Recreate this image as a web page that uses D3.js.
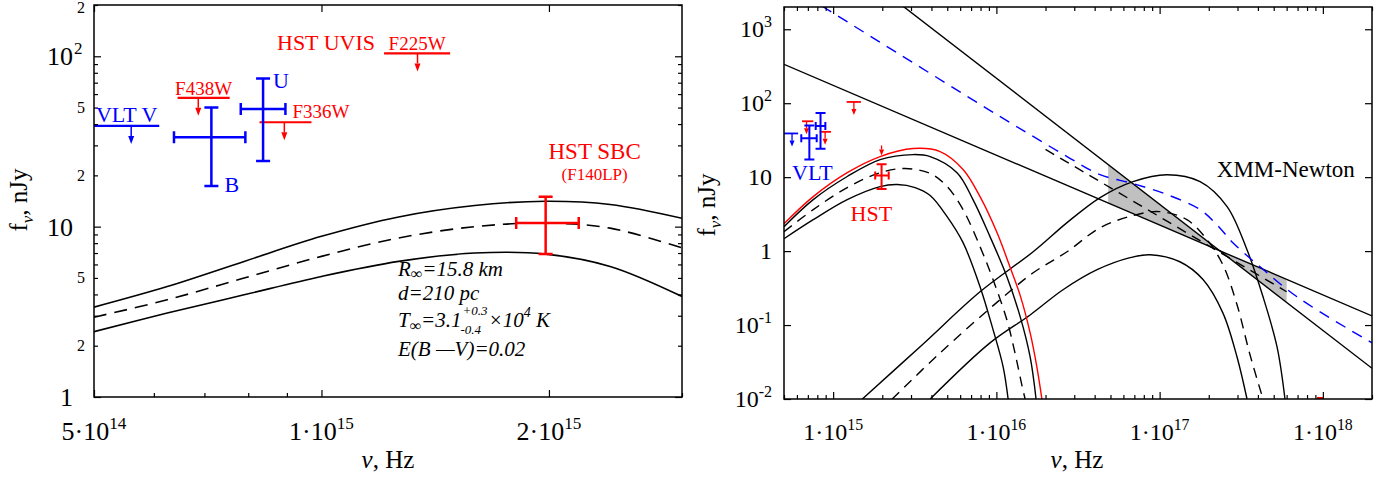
<!DOCTYPE html>
<html>
<head>
<meta charset="utf-8">
<script src="https://cdn.jsdelivr.net/npm/d3@7"></script>
<style>
  body { margin: 0; background: #fff; }
  svg { font-family: "Liberation Serif", "Times New Roman", serif; }
</style>
</head>
<body>
<div id="chart"></div>
<script>
// all values: nu in Hz, f_nu in nJy

// left panel - atmosphere model spectra (upper / best / lower)
const uvUpper = [[5e14, 3.37], [6.25e14, 4.45], [7.9e14, 6.25], [1e15, 8.77], [1.265e15, 11.4], [1.595e15, 13.3], [1.98e15, 14.1], [2.41e15, 13.5], [3.0e15, 11.2]]
const uvBest = [[5e14, 2.94], [6.25e14, 3.72], [7.9e14, 4.99], [1e15, 6.69], [1.265e15, 8.58], [1.595e15, 10.0], [1.98e15, 10.5], [2.41e15, 9.8], [3.0e15, 7.5]]
const uvLower = [[5e14, 2.42], [6.25e14, 3.11], [7.9e14, 3.98], [1e15, 5.1], [1.265e15, 6.25], [1.595e15, 7.0], [1.98e15, 6.9], [2.41e15, 5.84], [3.0e15, 3.89]]

// photometry, shared by both panels
const limNames = ["VLT V", "F438W", "F336W", "F225W"]
const limInstr = ["VLT", "HST", "HST", "HST"]
const limNuLo = [5.0e14, 6.45e14, 8.28e14, 1.21e15]
const limNuHi = [6.1e14, 7.56e14, 9.7e14, 1.48e15]
const limNuArrow = [5.6e14, 6.87e14, 8.93e14, 1.34e15]
const limFlux = [39, 57, 41, 104]

const detNames = ["B", "U", "F140LP"]
const detInstr = ["VLT", "VLT", "HST"]
const detNu = [7.15e14, 8.37e14, 1.98e15]
const detNuLo = [6.38e14, 7.82e14, 1.81e15]
const detNuHi = [7.93e14, 8.96e14, 2.19e15]
const detFlux = [33.5, 49, 10.5]
const detFluxLo = [17.3, 24.3, 6.9]
const detFluxHi = [50, 74, 15]

// right panel only
const sbcArrowNu = 1.98e15
const sbcArrowFlux = [26.8, 19.6]
const edgeSegNu = [9.2e17, 1e18]
const edgeSegFlux = 0.01

// right panel - optical BB (red, upper, best, lower)
const optRed = [[5.0e14, 2.35], [7.55e14, 5.46], [1.22e15, 11.5], [1.94e15, 19.0], [3.09e15, 24.4], [4.52e15, 22.2], [6.25e15, 12.7], [7.94e15, 5.46], [1.01e16, 1.77], [1.21e16, 0.615], [1.40e16, 0.25], [1.61e16, 0.0783], [1.77e16, 0.0272], [1.90e16, 0.01]]
const optUpper = [[5.0e14, 2.14], [7.55e14, 4.97], [1.22e15, 10.2], [1.94e15, 17.3], [3.09e15, 20.2], [3.93e15, 19.0], [5.74e15, 11.5], [7.19e15, 4.97], [9.14e15, 1.57], [1.16e16, 0.45], [1.40e16, 0.129], [1.61e16, 0.037], [1.75e16, 0.01]]
const optBest = [[5.0e14, 1.83], [7.55e14, 3.64], [1.22e15, 7.23], [1.94e15, 11.5], [2.76e15, 13.1], [3.93e15, 11.2], [4.99e15, 7.46], [6.25e15, 3.64], [7.94e15, 1.15], [9.55e15, 0.409], [1.16e16, 0.117], [1.30e16, 0.042], [1.44e16, 0.0146], [1.50e16, 0.01]]
const optLower = [[5.0e14, 1.47], [7.55e14, 2.66], [1.22e15, 4.97], [1.94e15, 7.46], [2.47e15, 7.94], [3.18e15, 7.23], [3.93e15, 5.64], [4.99e15, 2.92], [6.25e15, 1.30], [7.94e15, 0.330], [9.55e15, 0.086], [1.10e16, 0.0272], [1.18e16, 0.01]]

// right panel - X-ray BB (upper, best, lower)
const xUpper = [[1.51e15, 0.01], [3.56e15, 0.0556], [7.94e15, 0.282], [1.68e16, 0.98], [2.71e16, 2.43], [4.32e16, 5.30], [6.87e16, 8.71], [1.11e17, 10.8], [1.77e17, 8.71], [2.59e17, 4.0], [3.43e17, 1.04], [4.30e17, 0.241], [5.24e17, 0.0507], [5.86e17, 0.01]]
const xBest = [[2.30e15, 0.01], [4.52e15, 0.042], [1.05e16, 0.219], [1.68e16, 0.509], [2.71e16, 0.98], [4.32e16, 2.07], [6.87e16, 3.02], [1.0e17, 3.42], [1.47e17, 2.66], [1.95e17, 1.43], [2.44e17, 0.655], [2.98e17, 0.188], [3.58e17, 0.0395], [4.30e17, 0.01]]
const xLower = [[3.93e15, 0.01], [9.14e15, 0.0574], [1.61e16, 0.137], [2.56e16, 0.30], [4.14e16, 0.56], [6.59e16, 0.815], [8.74e16, 0.894], [1.33e17, 0.718], [1.85e17, 0.409], [2.44e17, 0.146], [2.98e17, 0.037], [3.43e17, 0.01]]

// power law: bow-tie edges, best fit, total model (blue) and XMM band
const plSteep = [[2.68e15, 2050], [2.0e18, 0.026]]
const plFlat = [[5.0e14, 336], [2.0e18, 0.133]]
const plBest = [[2.0e16, 23.7], [6.0e17, 0.282]]
const totalModel = [[8.57e14, 2050], [1.05e16, 66.2], [1.68e16, 35.5], [2.71e16, 19.0], [4.32e16, 10.8], [6.87e16, 8.18], [1.11e17, 5.81], [1.77e17, 3.64], [2.24e17, 2.28], [2.81e17, 1.30], [4.12e17, 0.615], [6.94e17, 0.241], [2.0e18, 0.0574]]
const xmmBand = [[4.84e16, 14.8], [6.0e17, 0.20], [6.0e17, 0.41], [4.84e16, 4.53]]

// ticks
const leftXMajor = [5e14, 1e15, 2e15]
const leftXText = [["5·10", "14"], ["1·10", "15"], ["2·10", "15"]]
const leftYMajor = [1, 10, 100]
const leftYLabelVals = [1, 2, 5, 10, 20, 50, 100, 200]
const leftYText = ["1", "2", "5", "10", "2", "5", "10", "2"]
const leftYExp = ["", "", "", "", "", "", "2", ""]
const rightXMajor = [1e15, 1e16, 1e17, 1e18]
const rightXText = [["1·10", "15"], ["1·10", "16"], ["1·10", "17"], ["1·10", "18"]]
const rightYMajor = [1e-2, 1e-1, 1, 10, 100, 1000]
const rightYText = ["10", "10", "1", "10", "10", "10"]
const rightYExp = ["-2", "-1", "", "", "2", "3"]

const colors = { VLT: "#0000ff", HST: "#ff0000" }

const svg = d3.select("#chart").append("svg")
  .attr("width", 1390)
  .attr("height", 480)

function makePanel(box, xDomain, yDomain, id) {
  const x = d3.scaleLog().domain(xDomain).range([box.left, box.right])
  const y = d3.scaleLog().domain(yDomain).range([box.bottom, box.top])
  svg.append("clipPath").attr("id", id).append("rect")
    .attr("x", box.left).attr("y", box.top)
    .attr("width", box.right - box.left).attr("height", box.bottom - box.top)
  const plot = svg.append("g").attr("clip-path", `url(#${id})`)
  return { x, y, plot, box }
}

// catmull-rom keeps the steep Wien tails smooth
const smooth = d3.curveCatmullRom.alpha(0.5)

function drawCurve(p, data, color, width, dash, curve) {
  const gen = d3.line()
    .x(d => p.x(d[0]))
    .y(d => p.y(d[1]))
    .curve(curve || smooth)
  p.plot.append("path")
    .attr("d", gen(data))
    .attr("fill", "none")
    .attr("stroke", color)
    .attr("stroke-width", width)
    .attr("stroke-dasharray", dash || null)
}

function arrowDown(g, x0, y0, y1, c, st) {
  g.append("line")
    .attr("x1", x0).attr("x2", x0)
    .attr("y1", y0).attr("y2", y1 - st.head)
    .attr("stroke", c).attr("stroke-width", st.aw)
  g.append("path")
    .attr("d", `M${x0 - st.hw},${y1 - st.head}L${x0 + st.hw},${y1 - st.head}L${x0},${y1}Z`)
    .attr("fill", c)
}

function drawLimits(p, st) {
  limFlux.forEach((f, i) => {
    const c = colors[limInstr[i]]
    const yy = p.y(f)
    p.plot.append("line")
      .attr("x1", p.x(limNuLo[i])).attr("x2", p.x(limNuHi[i]))
      .attr("y1", yy).attr("y2", yy)
      .attr("stroke", c).attr("stroke-width", st.w)
    arrowDown(p.plot, p.x(limNuArrow[i]), yy, yy + st.len, c, st)
  })
}

function drawDetections(p, st) {
  detFlux.forEach((f, i) => {
    const c = colors[detInstr[i]]
    const cx = p.x(detNu[i]), cy = p.y(f)
    const x0 = p.x(detNuLo[i]), x1 = p.x(detNuHi[i])
    const y0 = p.y(detFluxLo[i]), y1 = p.y(detFluxHi[i])
    const d = `M${x0},${cy}H${x1}M${cx},${y0}V${y1}` +
      `M${x0},${cy - st.vcap}V${cy + st.vcap}M${x1},${cy - st.vcap}V${cy + st.vcap}` +
      `M${cx - st.hcap},${y0}H${cx + st.hcap}M${cx - st.hcap},${y1}H${cx + st.hcap}`
    p.plot.append("path").attr("d", d)
      .attr("fill", "none").attr("stroke", c).attr("stroke-width", st.w)
  })
}

function drawFrame(p, o) {
  const { x, y, box } = p
  const g = svg.append("g")
  const xMinor = x.ticks().filter(v => !o.xMajor.includes(v))
  const yMinor = o.yMinor ? y.ticks().filter(v => !o.yMajor.includes(v)) : []
  const add = (axis, tx, ty) => g.append("g")
    .attr("transform", `translate(${tx},${ty})`)
    .call(axis)
    .call(s => s.select(".domain").remove())
    .call(s => s.selectAll("line").attr("stroke-width", 1.2))
  add(d3.axisBottom(x).tickValues(o.xMajor).tickSize(-7).tickFormat(""), 0, box.bottom)
  add(d3.axisBottom(x).tickValues(xMinor).tickSize(-4).tickFormat(""), 0, box.bottom)
  add(d3.axisTop(x).tickValues(o.xMajor).tickSize(-7).tickFormat(""), 0, box.top)
  if (o.topMinor) add(d3.axisTop(x).tickValues(xMinor).tickSize(-4).tickFormat(""), 0, box.top)
  add(d3.axisLeft(y).tickValues(o.yMajor).tickSize(-7).tickFormat(""), box.left, 0)
  add(d3.axisRight(y).tickValues(o.yMajor).tickSize(-7).tickFormat(""), box.right, 0)
  if (yMinor.length) {
    add(d3.axisLeft(y).tickValues(yMinor).tickSize(-4).tickFormat(""), box.left, 0)
    add(d3.axisRight(y).tickValues(yMinor).tickSize(-4).tickFormat(""), box.right, 0)
  }
  g.append("rect")
    .attr("x", box.left).attr("y", box.top)
    .attr("width", box.right - box.left).attr("height", box.bottom - box.top)
    .attr("fill", "none").attr("stroke", "#000").attr("stroke-width", 1.5)
}

function powText(g, x0, y0, base, exp, size, expSize, anchor) {
  const t = g.append("text")
    .attr("x", x0).attr("y", y0)
    .attr("font-size", size)
    .attr("text-anchor", anchor)
  t.append("tspan").text(base)
  if (exp) t.append("tspan").attr("font-size", expSize).attr("dy", -size * 0.42).text(exp)
  return t
}

function xLabels(p, vals, texts, size, baseline) {
  vals.forEach((v, i) => powText(svg, p.x(v), baseline, texts[i][0], texts[i][1], size, size * 0.66, "middle"))
}

function axisTitles(xc, yTitleX, yc) {
  const t = svg.append("text")
    .attr("transform", `translate(${yTitleX},${yc}) rotate(-90)`)
    .attr("text-anchor", "middle")
    .attr("font-size", 25)
  t.append("tspan").text("f")
  t.append("tspan").attr("font-style", "italic").attr("font-size", 17).attr("dy", 6).text("ν")
  t.append("tspan").attr("dy", -6).text(", nJy")
  const b = svg.append("text")
    .attr("x", xc).attr("y", 468)
    .attr("text-anchor", "middle")
    .attr("font-size", 25)
  b.append("tspan").attr("font-style", "italic").text("ν")
  b.append("tspan").text(", Hz")
}

function label(g, x0, y0, text, color, size, anchor) {
  return g.append("text")
    .attr("x", x0).attr("y", y0)
    .attr("fill", color).attr("font-size", size)
    .attr("text-anchor", anchor || "start")
    .text(text)
}

// ================= left panel =================
const L = makePanel({ left: 94, right: 682, top: 5, bottom: 397 }, [5e14, 3e15], [1, 200], "clipL")

drawCurve(L, uvUpper, "#000", 1.6)
drawCurve(L, uvBest, "#000", 1.6, "13,8")
drawCurve(L, uvLower, "#000", 1.6)

drawLimits(L, { w: 2.2, aw: 1.5, len: 18, head: 8, hw: 3 })
drawDetections(L, { w: 2.5, hcap: 7, vcap: 6 })

drawFrame(L, { xMajor: leftXMajor, yMajor: leftYMajor, yMinor: true, topMinor: false })

xLabels(L, leftXMajor, leftXText, 26, 440)
leftYLabelVals.forEach((v, i) => {
  const yy = L.y(v)
  const big = leftYMajor.includes(v)
  if (big) {
    label(svg, 73, yy + 9, leftYText[i], "#000", 26, "end")
    if (leftYExp[i]) label(svg, 74, yy - 2, leftYExp[i], "#000", 17, "start")
  } else {
    label(svg, 85, Math.max(yy + 5.5, 13), leftYText[i], "#000", 16, "end")
  }
})
axisTitles(388, 27, 200)

// labels for the photometry
const red = colors.HST, blue = colors.VLT
label(svg, (L.x(limNuLo[0]) + L.x(limNuHi[0])) / 2, L.y(limFlux[0]) - 4, limNames[0], blue, 22, "middle")
label(svg, (L.x(limNuLo[1]) + L.x(limNuHi[1])) / 2, L.y(limFlux[1]) - 3, limNames[1], red, 19, "middle")
label(svg, L.x(limNuHi[2]) - 19, L.y(limFlux[2]) - 4, limNames[2], red, 19, "start")
label(svg, (L.x(limNuLo[3]) + L.x(limNuHi[3])) / 2, L.y(limFlux[3]) - 3, limNames[3], red, 19, "middle")
label(svg, L.x(limNuLo[3]) - 9, L.y(limFlux[3]) - 3, "HST UVIS", red, 22, "end")
label(svg, L.x(detNu[0]) + 13, L.y(detFluxLo[0]) + 6, detNames[0], blue, 22, "start")
label(svg, L.x(detNu[1]) + 10, L.y(detFluxHi[1]) + 9, detNames[1], blue, 22, "start")
label(svg, L.x(detNu[2]) + 49, L.y(detFluxHi[2]) - 38, "HST SBC", red, 23, "middle")
label(svg, L.x(detNu[2]) + 49, L.y(detFluxHi[2]) - 17, "(" + detNames[2] + ")", red, 17, "middle")

// fit parameters
const ann = svg.append("g").attr("font-style", "italic").attr("font-size", 21)
const ax0 = 398
const r1 = ann.append("text").attr("x", ax0).attr("y", 276)
r1.append("tspan").text("R")
r1.append("tspan").attr("font-size", 16).attr("dy", 3).text("∞")
r1.append("tspan").attr("dy", -3).text("=15.8 km")
ann.append("text").attr("x", ax0).attr("y", 300).text("d=210 pc")
const t1 = ann.append("text").attr("x", ax0).attr("y", 327)
t1.append("tspan").text("T")
t1.append("tspan").attr("font-size", 16).attr("dy", 4).text("∞")
t1.append("tspan").attr("dy", -4).text("=3.1")
const tw = t1.node().getComputedTextLength()
const up = ann.append("text").attr("x", ax0 + tw + 1).attr("y", 315).attr("font-size", 13).text("+0.3")
const dn = ann.append("text").attr("x", ax0 + tw - 1).attr("y", 334).attr("font-size", 13).text("-0.4")
const ew = Math.max(up.node().getComputedTextLength(), dn.node().getComputedTextLength())
const t2 = ann.append("text").attr("x", ax0 + tw + ew + 2).attr("y", 327)
t2.append("tspan").text("×10")
t2.append("tspan").attr("font-size", 14).attr("dy", -10).text("4")
t2.append("tspan").attr("dy", 10).text(" K")
ann.append("text").attr("x", ax0).attr("y", 356).text("E(B —V)=0.02")

// ================= right panel =================
const R = makePanel({ left: 784, right: 1372, top: 7, bottom: 399 }, [5e14, 2e18], [1e-2, 2e3], "clipR")

R.plot.append("path")
  .attr("d", d3.line().x(d => R.x(d[0])).y(d => R.y(d[1]))(xmmBand) + "Z")
  .attr("fill", "#c0c0c0")
  .attr("stroke", "none")

drawCurve(R, plSteep, "#000", 1.4, null, d3.curveLinear)
drawCurve(R, plFlat, "#000", 1.4, null, d3.curveLinear)
drawCurve(R, plBest, "#000", 1.4, "10,7", d3.curveLinear)

drawCurve(R, xUpper, "#000", 1.4)
drawCurve(R, xBest, "#000", 1.4, "10,7")
drawCurve(R, xLower, "#000", 1.4)

drawCurve(R, optUpper, "#000", 1.4)
drawCurve(R, optBest, "#000", 1.4, "10,7")
drawCurve(R, optLower, "#000", 1.4)
drawCurve(R, optRed, red, 1.4)

drawCurve(R, totalModel, blue, 1.4, "11,8")

drawLimits(R, { w: 1.8, aw: 1.3, len: 13, head: 6, hw: 2.5 })
drawDetections(R, { w: 2, hcap: 5, vcap: 4 })
arrowDown(R.plot, R.x(sbcArrowNu), R.y(sbcArrowFlux[0]), R.y(sbcArrowFlux[1]), red, { aw: 1.3, head: 6, hw: 2.5 })
R.plot.append("line")
  .attr("x1", R.x(edgeSegNu[0])).attr("x2", R.x(edgeSegNu[1]))
  .attr("y1", R.y(edgeSegFlux) - 1).attr("y2", R.y(edgeSegFlux) - 1)
  .attr("stroke", red).attr("stroke-width", 2)

drawFrame(R, { xMajor: rightXMajor, yMajor: rightYMajor, yMinor: false, topMinor: true })

xLabels(R, rightXMajor, rightXText, 24, 440)
rightYMajor.forEach((v, i) => {
  powText(svg, 772, R.y(v) + 8, rightYText[i], rightYExp[i], 24, 16, "end")
})
axisTitles(1077, 715, 205)

label(svg, R.x(limNuArrow[0]), R.y(detFluxLo[0]) + 20, "VLT", blue, 22, "start")
label(svg, R.x(detNu[2]) - 31, R.y(detFluxLo[2]) + 32, "HST", red, 22, "start")
label(svg, R.x(2.24e17), R.y(10), "XMM-Newton", "#000", 23, "start")
</script>
</body>
</html>
